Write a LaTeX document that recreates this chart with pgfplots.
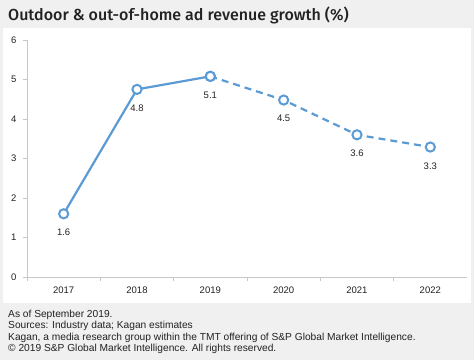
\documentclass[border=0pt]{standalone}
\usepackage{pgfplots}
\pgfplotsset{compat=1.18}
\usepackage{fontspec}
\setmainfont{Liberation Sans}
\newfontfamily\titlefont{Fira Sans Medium}
\definecolor{bg}{HTML}{F0F0F0}
\definecolor{ln}{HTML}{5B9BD5}
\definecolor{ax}{HTML}{C8C8C8}
\definecolor{txt}{HTML}{222222}
\begin{document}
\begin{tikzpicture}[x=1pt,y=1pt]
\fill[bg] (0,0) rectangle (474,360);
\fill[white] (3,57) rectangle (471,332);
\node[anchor=base west, font=\titlefont\fontsize{16}{18}\selectfont, text=txt, inner sep=0] at (8,340) {Outdoor \& out-of-home ad revenue growth (\%)};
\node[anchor=north west, align=left, font=\fontsize{10.2}{11.6}\selectfont, text=txt, inner sep=0] at (8,50.5) {As of September 2019.\\Sources: Industry data; Kagan estimates\\Kagan, a media research group within the TMT offering of S\&P Global Market Intelligence.\\\textcopyright{} 2019 S\&P Global Market Intelligence. All rights reserved.};
\begin{axis}[
  at={(27pt,83pt)}, anchor=south west,
  scale only axis, width=440pt, height=237pt,
  xmin=2016.5, xmax=2022.5, ymin=0, ymax=6,
  axis lines=left, axis line style={-, ax, line width=0.8pt},
  xtick={2017,...,2022}, minor xtick={2016.5,2017.5,...,2021.5},
  major x tick style={draw=none},
  minor x tick style={ax, line width=0.8pt},
  ytick={0,...,6},
  y tick style={ax, line width=0.8pt},
  tick align=outside, major tick length=4pt, minor tick length=4pt,
  xticklabel style={/pgf/number format/1000 sep={}, font=\fontsize{9.5}{11}\selectfont, text=txt},
  yticklabel style={font=\fontsize{9.5}{11}\selectfont, text=txt},
  /pgf/number format/assume math mode=true,
  x tick label style={yshift=-2pt},
  y tick label style={xshift=-3pt},
  clip=false,
  nodes near coords, point meta=explicit symbolic,
  every node near coord/.append style={anchor=north, yshift=-11pt, font=\fontsize{9.5}{11}\selectfont, text=txt},
]
\addplot[ln, line width=2.2pt, mark=*, mark size=4.6pt, mark options={solid, fill=white, draw=ln, line width=2pt}] coordinates {(2017,1.6)[1.6] (2018,4.75)[4.8] (2019,5.08)[5.1]};
\addplot[ln, line width=2.2pt, dash pattern=on 7pt off 5pt, mark=*, mark size=4.6pt, mark options={solid, fill=white, draw=ln, line width=2pt}] coordinates {(2019,5.08)[] (2020,4.48)[4.5] (2021,3.6)[3.6] (2022,3.29)[3.3]};
\end{axis}
\end{tikzpicture}
\end{document}
